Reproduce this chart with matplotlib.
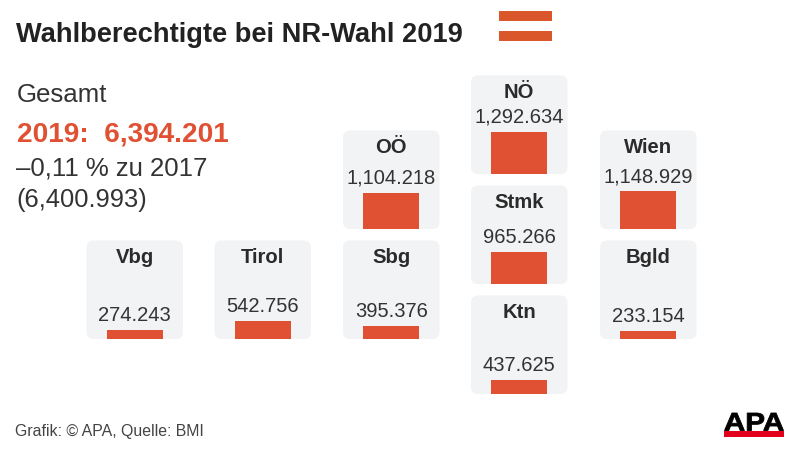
import matplotlib
matplotlib.use("Agg")
import matplotlib.pyplot as plt
from matplotlib.patches import FancyBboxPatch, Rectangle, PathPatch
from matplotlib.textpath import TextPath
from matplotlib.font_manager import FontProperties
from matplotlib.transforms import Affine2D

plt.rcParams['font.family'] = ['Liberation Sans', 'DejaVu Sans']

# Wahlberechtigte pro Bundesland
states = ["Vbg", "Tirol", "Sbg", "OÖ", "NÖ", "Stmk", "Ktn", "Wien", "Bgld"]
voters = [274243, 542756, 395376, 1104218, 1292634, 965266, 437625, 1148929, 233154]
voter_labels = ["274.243", "542.756", "395.376", "1,104.218", "1,292.634",
                "965.266", "437.625", "1,148.929", "233.154"]

# tile map layout, in pixels: left edge and bottom edge of each tile
tile_left = [86.5, 214.5, 343, 343, 471, 471, 471, 600, 600]
tile_bottom = [112, 112, 112, 222, 277, 167, 57, 222, 112]
tile_w = 96.5
tile_h = 98.5
bar_w = 56
px_per_voter = 42.3 / 1292634

RED = "#E05033"
DARK = "#2b2b2b"

fig = plt.figure(figsize=(8, 4.52), dpi=100)
ax = fig.add_axes([0, 0, 1, 1])
ax.set_xlim(0, 800)
ax.set_ylim(0, 452)
ax.axis("off")

for i in range(len(states)):
    box = FancyBboxPatch((tile_left[i] + 6, tile_bottom[i] + 6), tile_w - 12, tile_h - 12,
                         boxstyle="round,pad=6,rounding_size=7", fc="#F2F3F5", ec="none", zorder=1)
    ax.add_patch(box)
    cx = tile_left[i] + tile_w / 2
    h = voters[i] * px_per_voter
    ax.bar(cx, h, width=bar_w, bottom=tile_bottom[i], color=RED, zorder=2)
    ax.text(cx, tile_bottom[i] + tile_h - 16, states[i], ha="center", va="center",
            fontsize=14.6, fontweight="bold", color=DARK, zorder=3)
    ax.text(cx, tile_bottom[i] + h + 15.5, voter_labels[i], ha="center", va="center",
            fontsize=14.5, color="#333333", zorder=3)

# title and summary
ax.text(16, 417.5, "Wahlberechtigte bei NR-Wahl 2019", ha="left", va="center",
        fontsize=19.6, fontweight="bold", color="#222222")
ax.text(17, 357.5, "Gesamt", ha="left", va="center", fontsize=18.6, color="#333333")
ax.text(17, 318, "2019:  6,394.201", ha="left", va="center", fontsize=20.2,
        fontweight="bold", color=RED)
ax.text(16, 283.5, "–0,11 % zu 2017", ha="left", va="center", fontsize=18.5, color="#333333")
ax.text(16, 252, "(6,400.993)", ha="left", va="center", fontsize=18.4, color="#333333")

# flag
ax.add_patch(Rectangle((499, 430.3), 53, 10, fc="#D9572B", ec="none"))
ax.add_patch(Rectangle((499, 409.7), 53, 10, fc="#D9572B", ec="none"))

# source and logo
ax.text(15, 20.5, "Grafik: © APA, Quelle: BMI", ha="left", va="center",
        fontsize=11.4, color="#444444")
ax.add_patch(Rectangle((724, 14), 60, 6.5, fc="#E2001A", ec="none"))
logo = TextPath((0, 0), "APA", size=25, prop=FontProperties(family="Liberation Sans", weight="bold"))
bb = logo.get_extents()
logo_tf = Affine2D().translate(-bb.x0, -bb.y0).scale(59 / bb.width, 17.5 / bb.height).translate(724.5, 20.5)
ax.add_patch(PathPatch(logo_tf.transform_path(logo), fc="black", ec="black", lw=0.6))

fig.savefig("out.png", dpi=100)
